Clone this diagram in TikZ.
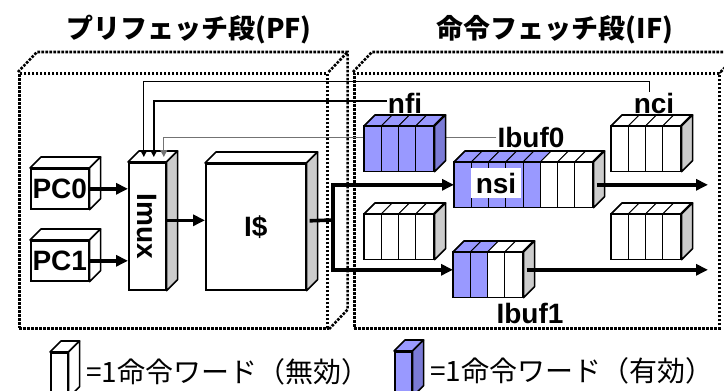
\documentclass[tikz,border=0pt]{standalone}
\usepackage{fontspec}
\setmainfont{Liberation Sans}
\newfontfamily\jpfont{Noto Sans CJK JP}
\usetikzlibrary{arrows.meta, positioning, calc}

\definecolor{valid}{HTML}{9999FF}
\definecolor{validside}{HTML}{7B7BD6}
\definecolor{sidegray}{HTML}{CCCCCC}

\tikzset{
  box/.style={draw, line width=1.6pt, fill=white, inner sep=0pt, anchor=north west},
  cell/.style={draw, line width=0.8pt},
  face/.style={draw, line width=1.6pt, line join=round},
  stageline/.style={draw, line width=2.6pt, dash pattern=on 2.6pt off 1.4pt},
  stage/.style={stageline, inner sep=0pt, anchor=north west},
  flow/.style={-{Triangle[length=12pt,width=11pt]}, line width=3.6pt},
  ctrl/.style={-{Triangle[length=7pt,width=7pt]}, line width=1pt},
  lbl/.style={font=\fontsize{28}{30}\selectfont\bfseries, inner sep=1pt},
  ttl/.style={font=\jpfont\fontsize{27}{30}\selectfont\bfseries},
  legtxt/.style={font=\jpfont\fontsize{28}{30}\selectfont}
}

\newcommand{\depthfaces}[3]{%
  \filldraw[face, fill=#2] (#1.north west) -- ++(11,-11) -- ($(#1.north east)+(11,-11)$) -- (#1.north east) -- cycle;
  \filldraw[face, fill=#3] (#1.north east) -- ++(11,-11) -- ($(#1.south east)+(11,-11)$) -- (#1.south east) -- cycle;
}
\newcommand{\cellrow}[2]{%
  \foreach \col [count=\i from 0] in {#2} {
    \filldraw[cell, fill=\col] ($(#1.north west)+(\i*17.25,0)$) rectangle ($(#1.south west)+(\i*17.25+17.25,0)$);
    \filldraw[cell, fill=\col] ($(#1.north west)+(\i*17.25,0)$) -- ++(11,-11) -- ++(17.25,0) -- ++(-11,11) -- cycle;
  }
  \draw[line width=1.6pt] (#1.north west) rectangle (#1.south east);
}

\begin{document}
\begin{tikzpicture}[x=1pt, y=-1pt]
  \useasboundingbox (0,0) rectangle (724,391);

  \node[stage, minimum width=308pt, minimum height=255pt] (pfst) at (18,72) {};
  \node[stage, minimum width=365pt, minimum height=255pt] (ifst) at (353,72) {};
  \draw[stageline] (pfst.north west) -- ++(19,-20) -- ($(pfst.north east)+(19,-20)$)
    -- ($(pfst.south east)+(19,-20)$) -- (pfst.south east);
  \draw[stageline] (pfst.north east) -- ++(19,-20);
  \draw[stageline] (ifst.north west) -- ++(19,-20) -- ($(ifst.north east)+(19,-20)$);
  \draw[stageline] (ifst.north east) -- ++(19,-20);

  \node[ttl] (pftitle) at (189,30) {プリフェッチ段(PF)};
  \node[ttl] (iftitle) at (555,30) {命令フェッチ段(IF)};

  \node[box, lbl, minimum width=58pt, minimum height=40pt] (pc0) at (30,168) {PC0};
  \depthfaces{pc0}{white}{white}
  \node[box, lbl, minimum width=58pt, minimum height=40pt] (pc1) at (30,240) {PC1};
  \depthfaces{pc1}{white}{white}
  \node[box, minimum width=37pt, minimum height=127pt] (imux) at (128,162) {};
  \depthfaces{imux}{white}{sidegray}
  \node[lbl, rotate=-90] (imuxlbl) at (imux.center) {Imux};
  \node[box, lbl, minimum width=100pt, minimum height=126pt] (icache) at (205,163) {I\$};
  \depthfaces{icache}{white}{sidegray}

  \node[lbl] (nfilbl) at (405,103) {nfi};
  \node[lbl] (ncilbl) at (654,103) {nci};
  \node[lbl] (ibuf0lbl) at (531,137) {Ibuf0};
  \node[lbl] (ibuf1lbl) at (530,313) {Ibuf1};

  \draw[ctrl] ([xshift=-5pt]ncilbl.north) -- ++(0,-10) -| ([xshift=-3.5pt,yshift=5pt]imux.north);
  \draw[ctrl, line width=1.4pt] ([yshift=2pt]nfilbl.west) -| ([xshift=6.5pt,yshift=5pt]imux.north);
  \draw[ctrl, draw=black!55] (ibuf0lbl.west) -| ([xshift=16.5pt,yshift=5pt]imux.north);

  \node[box, minimum width=69pt, minimum height=44pt] (nfibuf) at (364,126) {};
  \cellrow{nfibuf}{valid,valid,valid,valid}
  \depthfaces{nfibuf}{none}{validside}
  \node[box, minimum width=69pt, minimum height=44pt] (spare0) at (364,214) {};
  \cellrow{spare0}{white,white,white,white}
  \depthfaces{spare0}{none}{sidegray}
  \node[box, minimum width=138pt, minimum height=44pt] (ibuf0) at (454,162) {};
  \cellrow{ibuf0}{valid,valid,valid,valid,valid,white,white,white}
  \depthfaces{ibuf0}{none}{sidegray}
  \node[lbl, fill=white, inner sep=5pt] (nsilbl) at (496,183) {nsi};
  \node[box, minimum width=69pt, minimum height=44pt] (ncibuf) at (611,126) {};
  \cellrow{ncibuf}{white,white,white,white}
  \depthfaces{ncibuf}{none}{sidegray}
  \node[box, minimum width=69pt, minimum height=44pt] (spare1) at (611,214) {};
  \cellrow{spare1}{white,white,white,white}
  \depthfaces{spare1}{none}{sidegray}
  \node[box, minimum width=69pt, minimum height=44pt] (ibuf1) at (453,252) {};
  \cellrow{ibuf1}{valid,valid,white,white}
  \depthfaces{ibuf1}{none}{sidegray}

  \coordinate (fork) at (333,220);
  \coordinate (out) at (708,184);
  \draw[flow] (pc0.east) -- (pc0.east -| imux.west);
  \draw[flow] (pc1.east) -- (pc1.east -| imux.west);
  \draw[flow] ([yshift=6pt]imux.east) -- ([yshift=6pt]imux.east -| icache.west);
  \draw[flow, -] ([xshift=3pt,yshift=6pt]icache.east) -- (fork);
  \draw[flow] (fork) |- (ibuf0.west);
  \draw[flow] (fork) |- ([yshift=5pt]ibuf1.west);
  \draw[flow] ([xshift=3pt]ibuf0.east) -- (ibuf0.east -| out);
  \draw[flow] ([xshift=3pt,yshift=5pt]ibuf1.east) -- ([yshift=5pt]ibuf1.east -| out);

  \node[box, minimum width=17pt, minimum height=44pt] (leginv) at (50,352) {};
  \depthfaces{leginv}{white}{white}
  \node[legtxt, right=14pt of leginv, yshift=3pt] (leginvtxt) {=1命令ワード（無効）};
  \node[box, fill=valid, minimum width=17pt, minimum height=44pt] (legval) at (394,351) {};
  \depthfaces{legval}{valid}{validside}
  \node[legtxt, right=14pt of legval, yshift=3pt] (legvaltxt) {=1命令ワード（有効）};
\end{tikzpicture}
\end{document}
